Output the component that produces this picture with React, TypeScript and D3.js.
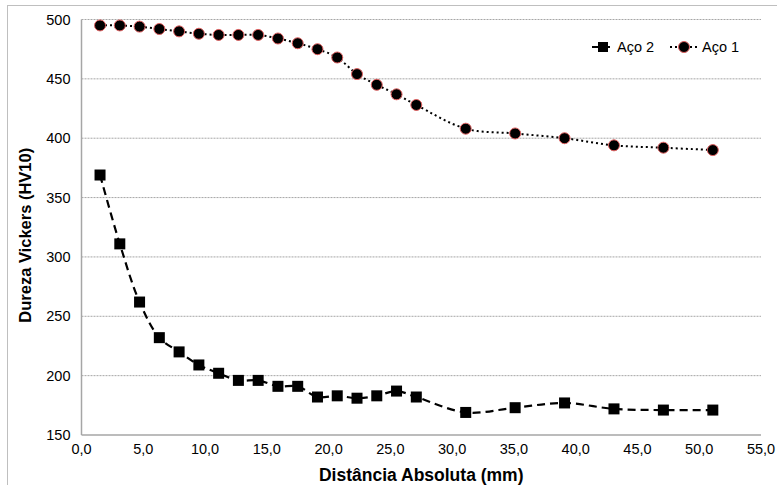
import React from 'react';
import * as d3 from 'd3';

// distance (mm) of each indentation
const distAco2 = [1.5, 3.1, 4.7, 6.3, 7.9, 9.5, 11.1, 12.7, 14.3, 15.9, 17.5, 19.1, 20.7, 22.3, 23.9, 25.5, 27.1, 31.1, 35.1, 39.1, 43.1, 47.1, 51.1];
const durezaAco2 = [369, 311, 262, 232, 220, 209, 202, 196, 196, 191, 191, 182, 183, 181, 183, 187, 182, 169, 173, 177, 172, 171, 171];

const distAco1 = [1.5, 3.1, 4.7, 6.3, 7.9, 9.5, 11.1, 12.7, 14.3, 15.9, 17.5, 19.1, 20.7, 22.3, 23.9, 25.5, 27.1, 31.1, 35.1, 39.1, 43.1, 47.1, 51.1];
const durezaAco1 = [495, 495, 494, 492, 490, 488, 487, 487, 487, 484, 480, 475, 468, 454, 445, 437, 428, 408, 404, 400, 394, 392, 390];

const xTicks = [0, 5, 10, 15, 20, 25, 30, 35, 40, 45, 50, 55];
const yTicks = [150, 200, 250, 300, 350, 400, 450, 500];

const W = 777;
const H = 485;
const margin = { top: 19.5, right: 16, bottom: 50, left: 81.5 };

export default function App() {
  const x = d3.scaleLinear().domain([0, 55]).range([margin.left, W - margin.right]);
  const y = d3.scaleLinear().domain([150, 500]).range([H - margin.bottom, margin.top]);

  const pts2 = distAco2.map((d, i) => [d, durezaAco2[i]] as [number, number]);
  const pts1 = distAco1.map((d, i) => [d, durezaAco1[i]] as [number, number]);

  const line = d3.line<[number, number]>()
    .x(d => x(d[0]))
    .y(d => y(d[1]))
    .curve(d3.curveCatmullRom.alpha(0.5));

  const fmt = (v: number) => v.toFixed(1).replace('.', ',');
  const sans = "'Liberation Sans', Arial, sans-serif";

  const legY = 47;

  return (
    <svg width={W} height={H} style={{ position: 'absolute', left: 0, top: 0, background: '#fff' }}>
      <rect x={7.5} y={5.5} width={W + 10} height={H + 10} fill="#fff" stroke="#bfbfbf" strokeWidth={1} />

      {/* grid */}
      {yTicks.filter(t => t > 150).map(t => (
        <line key={t} x1={x(0)} x2={x(55)} y1={y(t)} y2={y(t)} stroke="#a6a6a6" strokeWidth={1} strokeDasharray="2,1" />
      ))}

      {/* axes */}
      <line x1={x(0)} x2={x(0)} y1={y(500)} y2={y(150)} stroke="#a6a6a6" strokeWidth={1.5} />
      <line x1={x(0)} x2={x(55)} y1={y(150)} y2={y(150)} stroke="#a6a6a6" strokeWidth={1.5} />

      {yTicks.map(t => (
        <text key={t} x={x(0) - 11} y={y(t)} dy="0.35em" textAnchor="end" fontFamily={sans} fontSize={14.5} fill="#000">{t}</text>
      ))}
      {xTicks.map(t => (
        <text key={t} x={x(t)} y={y(150) + 18.5} textAnchor="middle" fontFamily={sans} fontSize={14.5} fill="#000">{fmt(t)}</text>
      ))}

      <text x={(x(0) + x(55)) / 2} y={481} textAnchor="middle" fontFamily={sans} fontWeight="bold" fontSize={17.5} fill="#000">Distância Absoluta (mm)</text>
      <text transform={`translate(31,${(y(150) + y(500)) / 2 + 8}) rotate(-90)`} textAnchor="middle" fontFamily={sans} fontWeight="bold" fontSize={16.5} fill="#000">Dureza Vickers (HV10)</text>

      {/* Aço 2 */}
      <path d={line(pts2) || ''} fill="none" stroke="#000" strokeWidth={2.2} strokeDasharray="8,5" />
      {pts2.map((d, i) => (
        <rect key={i} x={x(d[0]) - 5.5} y={y(d[1]) - 5.5} width={11} height={11} fill="#000" />
      ))}

      {/* Aço 1 */}
      <path d={line(pts1) || ''} fill="none" stroke="#000" strokeWidth={2} strokeDasharray="2,3" />
      {pts1.map((d, i) => (
        <circle key={i} cx={x(d[0])} cy={y(d[1])} r={5.5} fill="#000" stroke="#e06060" strokeWidth={1} />
      ))}

      {/* legend */}
      <g>
        <line x1={592} x2={614} y1={legY} y2={legY} stroke="#000" strokeWidth={2.2} strokeDasharray="7,4" />
        <rect x={598} y={legY - 5} width={10} height={10} fill="#000" />
        <text x={617} y={legY} dy="0.35em" fontFamily={sans} fontSize={14.5} fill="#000">Aço 2</text>
        <line x1={670} x2={699} y1={legY} y2={legY} stroke="#000" strokeWidth={2} strokeDasharray="2,3" />
        <circle cx={684} cy={legY} r={5.5} fill="#000" stroke="#e06060" strokeWidth={1} />
        <text x={702} y={legY} dy="0.35em" fontFamily={sans} fontSize={14.5} fill="#000">Aço 1</text>
      </g>
    </svg>
  );
}
